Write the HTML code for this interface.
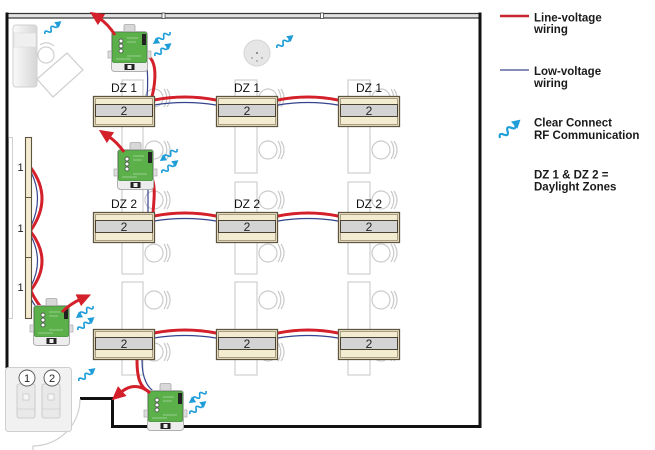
<!DOCTYPE html>
<html><head><meta charset="utf-8"><style>
html,body{margin:0;padding:0;background:#fff;}
svg{display:block;}
text{font-family:"Liberation Sans",Arial,sans-serif;}
</style></head><body>
<svg width="655" height="450" viewBox="0 0 655 450" xmlns="http://www.w3.org/2000/svg">
<defs>
 <marker id="ah" markerUnits="userSpaceOnUse" markerWidth="14" markerHeight="13" viewBox="0 0 14 13" refX="3" refY="6.5" orient="auto">
   <path d="M0,0 L14,6.5 L0,13 z" fill="#d3202a"/>
 </marker>
 <linearGradient id="sg" x1="0" y1="0" x2="1" y2="0">
   <stop offset="0" stop-color="#fafafa"/><stop offset="1" stop-color="#d6d6d6"/>
 </linearGradient>
 <g id="sq">
   <path d="M0 0 Q1.75 -3.6 3.5 0 T7 0 T10.5 0 T14 0" fill="none" stroke="#1e9dd8" stroke-width="1.5"/>
   <path d="M13.2 -3.3 L19 0 L13.2 3.3 z" fill="#1e9dd8"/>
 </g>
 <g id="chair">
   <circle cx="0" cy="0" r="9" fill="#fff" stroke="#cacaca" stroke-width="1.2"/>
   <path d="M10 -9 Q15.5 0 10 9 M13 -9 Q19 0 13 9" fill="none" stroke="#cacaca" stroke-width="1.2"/>
 </g>
 <g id="fix">
   <rect x="0.5" y="0.5" width="61" height="30" fill="#f4ecd0" stroke="#5e5440" stroke-width="1.3"/>
   <rect x="2.5" y="2.5" width="57" height="26" fill="none" stroke="#8a7f62" stroke-width="0.7"/>
   <rect x="2.5" y="8.5" width="57" height="12" fill="#d3d3d3" stroke="#4a4232" stroke-width="1"/>
 </g>
 <g id="mod">
   <rect x="13" y="0.5" width="11" height="9" rx="1.5" fill="#d8d8d8" stroke="#a8a8a8" stroke-width="0.8"/>
   <rect x="-3" y="27" width="5" height="7" fill="#ddd" stroke="#aaa" stroke-width="0.7"/>
   <rect x="35" y="27" width="5" height="7" fill="#ddd" stroke="#aaa" stroke-width="0.7"/>
   <rect x="0.5" y="7.5" width="36" height="40" rx="3" fill="#ededed" stroke="#b0b0b0" stroke-width="1"/>
   <rect x="1.5" y="8.5" width="34" height="30" rx="1.5" fill="#5bb04a" stroke="#3a8a30" stroke-width="0.8"/>
   <rect x="31" y="10" width="4" height="11" fill="#222"/>
   <circle cx="10" cy="17" r="2" fill="#fff" stroke="#333" stroke-width="0.7"/>
   <circle cx="10" cy="22" r="2" fill="#fff" stroke="#333" stroke-width="0.7"/>
   <circle cx="10" cy="27" r="2" fill="#fff" stroke="#333" stroke-width="0.7"/>
   <path d="M16 14 H27 M16 18 H25 M16 32 H30 M5 35 H20" stroke="#d8f0d0" stroke-width="0.6"/>
   <rect x="13.5" y="40" width="10" height="6" fill="#222"/>
   <rect x="16.5" y="41" width="4" height="4" fill="#eee"/>
 </g>
</defs>

<!-- top-left tall sensor & rotated desk -->
<rect x="13" y="25" width="24" height="62" rx="3" fill="url(#sg)" stroke="#d0d0d0" stroke-width="1"/>
<rect x="14" y="33" width="22" height="14" fill="#efefef" stroke="#dadada" stroke-width="0.6"/>
<polygon points="37,79 67,53 83,70 53,97" fill="none" stroke="#cfcfcf" stroke-width="1.2"/>
<circle cx="46" cy="55" r="8" fill="none" stroke="#cfcfcf" stroke-width="1.2"/>
<path d="M40 45 Q47 40 54 46" fill="none" stroke="#cfcfcf" stroke-width="1.2"/>

<!-- left window -->
<rect x="8.5" y="137.5" width="4" height="181" fill="none" stroke="#cfcfcf" stroke-width="1"/>

<!-- desks -->
<g fill="#fff" stroke="#cfcfcf" stroke-width="1.2">
 <rect x="122" y="80" width="21" height="93"/><rect x="122" y="182" width="21" height="92"/><rect x="122" y="282" width="21" height="93"/>
 <rect x="235" y="80" width="22" height="93"/><rect x="235" y="182" width="22" height="92"/><rect x="235" y="282" width="22" height="93"/>
 <rect x="348" y="80" width="22" height="93"/><rect x="348" y="182" width="22" height="92"/><rect x="348" y="282" width="22" height="93"/>
</g>
<use href="#chair" x="154" y="98"/><use href="#chair" x="154" y="150"/><use href="#chair" x="154" y="200"/><use href="#chair" x="154" y="253"/><use href="#chair" x="154" y="300"/><use href="#chair" x="154" y="352"/>
<use href="#chair" x="268" y="98"/><use href="#chair" x="268" y="150"/><use href="#chair" x="268" y="200"/><use href="#chair" x="268" y="253"/><use href="#chair" x="268" y="300"/><use href="#chair" x="268" y="352"/>
<use href="#chair" x="381" y="98"/><use href="#chair" x="381" y="150"/><use href="#chair" x="381" y="200"/><use href="#chair" x="381" y="253"/><use href="#chair" x="381" y="300"/><use href="#chair" x="381" y="352"/>

<!-- walls -->
<rect x="6.5" y="13.5" width="473" height="4.5" fill="#e2e2e2" stroke="#333" stroke-width="1.2"/>
<rect x="162" y="13" width="3" height="5.5" fill="#fff" stroke="#444" stroke-width="0.8"/>
<rect x="320.5" y="13" width="3" height="5.5" fill="#fff" stroke="#444" stroke-width="0.8"/>
<line x1="7" y1="12.5" x2="7" y2="368" stroke="#111" stroke-width="3"/>
<line x1="480" y1="12.5" x2="480" y2="428" stroke="#111" stroke-width="3"/>
<polyline points="80,398.5 112.5,398.5 112.5,426.5 481,426.5" fill="none" stroke="#111" stroke-width="3"/>

<!-- door swing & keypad -->
<path d="M80 399 A47 47 0 0 1 33 446 L33 450" fill="none" stroke="#cfcfcf" stroke-width="1.2"/>
<rect x="5.5" y="367.5" width="66" height="64" rx="3" fill="#f1f1f1" stroke="#cfcfcf" stroke-width="1"/>
<rect x="17" y="384" width="18" height="34" rx="2" fill="#e9e9e9" stroke="#c4c4c4" stroke-width="0.8"/>
<rect x="42" y="384" width="18" height="34" rx="2" fill="#e9e9e9" stroke="#c4c4c4" stroke-width="0.8"/>
<rect x="23" y="394" width="6" height="6" fill="#f6f6f6" stroke="#bbb" stroke-width="0.6"/>
<rect x="48" y="394" width="6" height="6" fill="#f6f6f6" stroke="#bbb" stroke-width="0.6"/>
<line x1="17" y1="409" x2="35" y2="409" stroke="#c4c4c4" stroke-width="0.6"/>
<line x1="42" y1="409" x2="60" y2="409" stroke="#c4c4c4" stroke-width="0.6"/>
<circle cx="27" cy="378" r="8" fill="#fff" stroke="#555" stroke-width="0.9"/>
<circle cx="52" cy="378" r="8" fill="#fff" stroke="#555" stroke-width="0.9"/>
<text x="27" y="382" font-size="11" text-anchor="middle" fill="#222">1</text>
<text x="52" y="382" font-size="11" text-anchor="middle" fill="#222">2</text>

<!-- ceiling sensor -->
<circle cx="257" cy="53" r="13" fill="#e6e6e6" stroke="#d4d4d4" stroke-width="1"/>
<circle cx="257" cy="53" r="1" fill="#777"/><circle cx="252" cy="58" r="0.9" fill="#999"/><circle cx="262" cy="58" r="0.9" fill="#999"/><circle cx="257" cy="61" r="0.9" fill="#999"/>

<!-- wires -->
<g fill="none" stroke-linecap="round">
 <g stroke="#d3202a" stroke-width="3">
  <path d="M148 56 C157 62 156 80 152 97"/>
  <path d="M154 100 Q185 94 216 100"/><path d="M278 100 Q308 94 338 100"/>
  <path d="M151 176 C156 185 154 200 153 213"/>
  <path d="M154 216 Q185 210 216 216"/><path d="M278 216 Q308 210 338 216"/>
  <path d="M154 333 Q185 327 216 333"/><path d="M278 333 Q308 327 338 333"/>
  <path d="M137 360 C137 378 140 388 150 392"/>
  <path d="M31 168 Q53 198 31 230"/><path d="M31 232 Q53 261 31 290"/>
  <path d="M31 291 Q34 298 40 306"/>
 </g>
 <g stroke="#34448e" stroke-width="1.2">
  <path d="M146 62 C148 70 148 85 147 97"/>
  <path d="M154 105 Q185 100 216 105"/><path d="M278 105 Q308 100 338 105"/>
  <path d="M148 185 L148 213"/>
  <path d="M154 221 Q185 216 216 221"/><path d="M278 221 Q308 216 338 221"/>
  <path d="M154 338 Q185 333 216 338"/><path d="M278 338 Q308 333 338 338"/>
  <path d="M142 360 C142 375 146 385 152 390"/>
  <path d="M31 172 Q44 198 31 226"/><path d="M31 236 Q44 261 31 286"/>
  <path d="M30 296 Q32 302 37 308"/>
 </g>
</g>

<!-- left strip fixtures -->
<rect x="25.5" y="137.5" width="6" height="181" fill="#f4ecd0" stroke="#5e5440" stroke-width="1.1"/>
<line x1="25" y1="197.5" x2="32" y2="197.5" stroke="#5e5440" stroke-width="1"/>
<line x1="25" y1="257.5" x2="32" y2="257.5" stroke="#5e5440" stroke-width="1"/>
<text x="20.5" y="171" font-size="11" text-anchor="middle" fill="#222">1</text>
<text x="20.5" y="232" font-size="11" text-anchor="middle" fill="#222">1</text>
<text x="20.5" y="291" font-size="11" text-anchor="middle" fill="#222">1</text>

<!-- fixtures -->
<use href="#fix" x="93" y="96"/><use href="#fix" x="216" y="96"/><use href="#fix" x="338" y="96"/>
<use href="#fix" x="93" y="212"/><use href="#fix" x="216" y="212"/><use href="#fix" x="338" y="212"/>
<use href="#fix" x="93" y="329"/><use href="#fix" x="216" y="329"/><use href="#fix" x="338" y="329"/>
<g font-size="12" text-anchor="middle" fill="#222">
 <text x="124" y="115">2</text><text x="247" y="115">2</text><text x="369" y="115">2</text>
 <text x="124" y="231">2</text><text x="247" y="231">2</text><text x="369" y="231">2</text>
 <text x="124" y="348">2</text><text x="247" y="348">2</text><text x="369" y="348">2</text>
</g>
<g font-size="12" text-anchor="middle" fill="#111">
 <text x="124" y="92">DZ 1</text><text x="247" y="92">DZ 1</text><text x="369" y="92">DZ 1</text>
 <text x="124" y="208">DZ 2</text><text x="247" y="208">DZ 2</text><text x="369" y="208">DZ 2</text>
</g>

<!-- modules -->
<use href="#mod" x="111" y="24"/>
<use href="#mod" x="117" y="142"/>
<use href="#mod" x="33" y="298"/>
<use href="#mod" x="147" y="383"/>

<!-- red arrows -->
<g fill="none" stroke="#d3202a" stroke-width="3" marker-end="url(#ah)">
 <path d="M115 35 Q108 24 99 18"/>
 <path d="M124 152 Q117 142 108 136"/>
 <path d="M62 312 Q70 304 81 299"/>
 <path d="M150 393 Q135 380 120 393"/>
</g>

<!-- RF squiggles -->
<use href="#sq" transform="translate(45,34) rotate(-38) scale(1.1)"/>
<use href="#sq" transform="translate(170,32) rotate(145) scale(1.1)"/>
<use href="#sq" transform="translate(155,56) rotate(-38) scale(1.1)"/>
<use href="#sq" transform="translate(277,48) rotate(-38) scale(1.1)"/>
<use href="#sq" transform="translate(177,149) rotate(145) scale(1.1)"/>
<use href="#sq" transform="translate(162,173) rotate(-38) scale(1.1)"/>
<use href="#sq" transform="translate(93,306) rotate(145) scale(1.1)"/>
<use href="#sq" transform="translate(78,330) rotate(-38) scale(1.1)"/>
<use href="#sq" transform="translate(79,381) rotate(-38) scale(1.1)"/>
<use href="#sq" transform="translate(206,391) rotate(145) scale(1.1)"/>
<use href="#sq" transform="translate(190,414) rotate(-38) scale(1.1)"/>

<!-- legend -->
<line x1="500" y1="16" x2="529" y2="16" stroke="#c8252c" stroke-width="2.5"/>
<line x1="500" y1="70" x2="529" y2="70" stroke="#3b4a8f" stroke-width="1.3"/>
<use href="#sq" transform="translate(500,138) rotate(-42) scale(1.45)"/>
<g font-size="11.5" font-weight="bold" fill="#1a1a1a">
 <text x="534" y="21.5">Line-voltage</text><text x="534" y="33">wiring</text>
 <text x="534" y="75">Low-voltage</text><text x="534" y="87">wiring</text>
 <text x="534" y="126.5">Clear Connect</text><text x="534" y="139">RF Communication</text>
 <text x="534" y="178.5">DZ 1 &amp; DZ 2 =</text><text x="534" y="190.5">Daylight Zones</text>
</g>
</svg>
</body></html>
